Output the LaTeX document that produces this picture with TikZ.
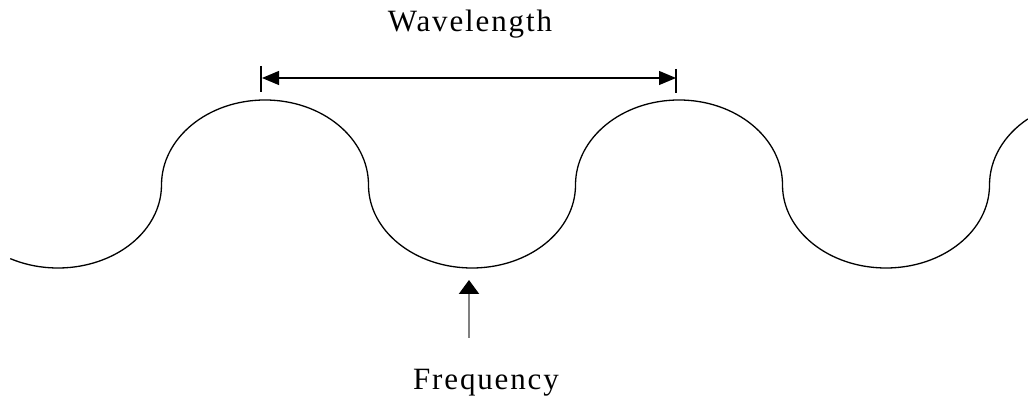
\documentclass[tikz,border=0pt]{standalone}
\usepackage{fontspec}
\setmainfont{Liberation Serif}
\newfontfamily\labelfont[LetterSpace=6]{Liberation Serif}
\usetikzlibrary{arrows.meta}
\tikzset{
  wave/.style={line width=1.3pt, black},
  dimline/.style={line width=1.2pt, black, {Triangle[length=17pt,width=14pt]}-{Triangle[length=17pt,width=14pt]}},
  barline/.style={line width=1.2pt, black},
  pointer/.style={line width=2.2pt, color=black!50, -{Triangle[length=14pt,width=20pt,color=black]}},
  lbl/.style={anchor=base, inner sep=0pt, font=\labelfont\fontsize{31}{36}\selectfont}
}
\begin{document}
\begin{tikzpicture}[x=1pt,y=1pt]
\useasboundingbox (0,0) rectangle (1028,396);
% wave
\draw[wave] ({58+103.5*cos(242.5)},{211+83*sin(242.5)})
  arc[start angle=242.5,end angle=360,x radius=103.5,y radius=83]
  arc[start angle=180,end angle=0,x radius=103.5,y radius=85]
  arc[start angle=180,end angle=360,x radius=103.5,y radius=83]
  arc[start angle=180,end angle=0,x radius=103.5,y radius=85]
  arc[start angle=180,end angle=360,x radius=103.5,y radius=83]
  arc[start angle=180,end angle=129,x radius=103.5,y radius=85];
% wavelength dimension
\coordinate (wl) at (262,318);
\coordinate (wr) at (676,318);
\coordinate (wlt) at (261,330);
\coordinate (wlb) at (261,304);
\coordinate (wrt) at (676,327);
\coordinate (wrb) at (676,303);
\draw[barline] (wlt) -- (wlb);
\draw[barline] (wrt) -- (wrb);
\draw[dimline] (wl) -- (wr);
\node[lbl] (wavelength) at (470,364) {Wavelength};
% frequency pointer
\node[lbl] (frequency) at (486,6) {Frequency};
\coordinate (fs) at (469,58);
\coordinate (ft) at (469,116);
\draw[pointer] (fs) -- (ft);
\end{tikzpicture}
\end{document}
